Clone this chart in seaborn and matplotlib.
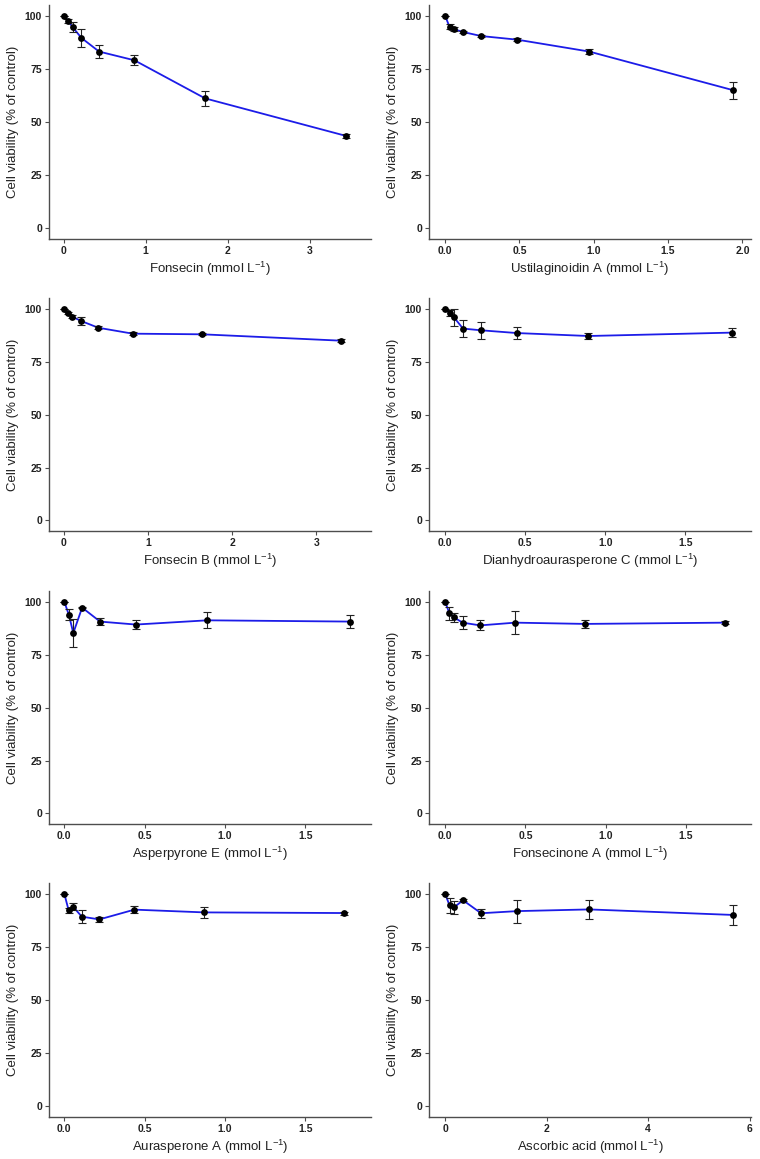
import numpy as np
import pandas as pd
import matplotlib
matplotlib.use("Agg")
import matplotlib.pyplot as plt
import seaborn as sns

sns.set_style("white")
plt.rcParams['font.family'] = ['Liberation Sans', 'DejaVu Sans']
plt.rcParams['mathtext.fontset'] = 'custom'
plt.rcParams['mathtext.rm'] = 'Liberation Sans'
plt.rcParams['mathtext.it'] = 'Liberation Sans:italic'

# compound names (x labels)
compounds = ["Fonsecin", "Ustilaginoidin A", "Fonsecin B", "Dianhydroaurasperone C",
             "Asperpyrone E", "Fonsecinone A", "Aurasperone A", "Ascorbic acid"]

# concentrations (mmol/L)
conc_fonsecin = [0, 0.054, 0.108, 0.216, 0.431, 0.8625, 1.725, 3.45]
conc_ustilaginoidin_a = [0, 0.030, 0.061, 0.121, 0.2425, 0.485, 0.97, 1.94]
conc_fonsecin_b = [0, 0.051, 0.103, 0.206, 0.41, 0.82, 1.645, 3.29]
conc_dianhydro_c = [0, 0.028, 0.056, 0.112, 0.224, 0.447, 0.895, 1.79]
conc_asperpyrone_e = [0, 0.028, 0.056, 0.111, 0.2225, 0.445, 0.89, 1.78]
conc_fonsecinone_a = [0, 0.027, 0.0545, 0.109, 0.218, 0.436, 0.872, 1.745]
conc_aurasperone_a = [0, 0.027, 0.0545, 0.109, 0.218, 0.436, 0.871, 1.742]
conc_ascorbic = [0, 0.089, 0.1775, 0.355, 0.71, 1.42, 2.84, 5.68]

# cell viability (% of control)
via_fonsecin = [100, 97.5, 94.6, 89.5, 83.1, 79.0, 61.1, 43.4]
via_ustilaginoidin_a = [100, 94.7, 93.6, 92.3, 90.4, 88.7, 83.1, 64.9]
via_fonsecin_b = [100, 98.0, 96.2, 94.2, 91.0, 88.2, 87.9, 84.9]
via_dianhydro_c = [100, 98.0, 95.9, 90.6, 89.8, 88.5, 87.1, 88.7]
via_asperpyrone_e = [100, 93.9, 85.2, 97.2, 90.6, 89.2, 91.2, 90.6]
via_fonsecinone_a = [100, 94.5, 92.6, 90.1, 88.8, 90.1, 89.5, 90.1]
via_aurasperone_a = [100, 92.2, 93.9, 89.2, 87.9, 92.5, 91.2, 90.9]
via_ascorbic = [100, 94.5, 93.6, 96.9, 90.8, 91.8, 92.6, 90.0]

# standard deviations
sd_fonsecin = [0, 1.0, 2.5, 4.2, 3.0, 2.4, 3.4, 1.0]
sd_ustilaginoidin_a = [0, 1.2, 1.0, 0.6, 0.5, 0.8, 1.2, 4.1]
sd_fonsecin_b = [0, 0.6, 0.6, 1.7, 0.6, 0.6, 0.5, 0.6]
sd_dianhydro_c = [0, 1.5, 3.9, 4.2, 3.9, 2.8, 1.4, 2.0]
sd_asperpyrone_e = [0, 2.5, 6.8, 0.4, 1.8, 2.0, 3.8, 3.0]
sd_fonsecinone_a = [0, 3.0, 2.0, 3.0, 2.4, 5.5, 1.9, 0.8]
sd_aurasperone_a = [0, 1.2, 1.6, 2.9, 1.3, 1.7, 2.7, 0.7]
sd_ascorbic = [0, 3.7, 3.1, 0.4, 2.1, 5.4, 4.6, 4.9]

concs = [conc_fonsecin, conc_ustilaginoidin_a, conc_fonsecin_b, conc_dianhydro_c,
         conc_asperpyrone_e, conc_fonsecinone_a, conc_aurasperone_a, conc_ascorbic]
vias = [via_fonsecin, via_ustilaginoidin_a, via_fonsecin_b, via_dianhydro_c,
        via_asperpyrone_e, via_fonsecinone_a, via_aurasperone_a, via_ascorbic]
sds = [sd_fonsecin, sd_ustilaginoidin_a, sd_fonsecin_b, sd_dianhydro_c,
       sd_asperpyrone_e, sd_fonsecinone_a, sd_aurasperone_a, sd_ascorbic]
xticks = [[0, 1, 2, 3], [0.0, 0.5, 1.0, 1.5, 2.0], [0, 1, 2, 3], [0.0, 0.5, 1.0, 1.5],
          [0.0, 0.5, 1.0, 1.5], [0.0, 0.5, 1.0, 1.5], [0.0, 0.5, 1.0, 1.5], [0, 2, 4, 6]]
xtick_fmt = ["{:.0f}", "{:.1f}", "{:.0f}", "{:.1f}", "{:.1f}", "{:.1f}", "{:.1f}", "{:.0f}"]
xlims = [(-0.18, 3.75), (-0.108, 2.058), (-0.175, 3.65), (-0.1, 1.91),
         (-0.095, 1.908), (-0.1, 1.904), (-0.095, 1.908), (-0.316, 6.03)]

fig = plt.figure(figsize=(7.6, 11.59), dpi=100)

col_left = [0.0645, 0.5645]
ax_w = 0.4237
rows = [(0.7938, 0.2019), (0.5418, 0.2010), (0.2890, 0.2010), (0.0362, 0.2019)]
axis_col = "#4d4d4d"

for i, name in enumerate(compounds):
    r, c = divmod(i, 2)
    ax = fig.add_axes([col_left[c], rows[r][0], ax_w, rows[r][1]])
    df = pd.DataFrame({"conc": concs[i], "viability": vias[i], "sd": sds[i]})

    sns.lineplot(data=df, x="conc", y="viability", color="#1c1ce8", linewidth=1.3,
                 ax=ax, zorder=2)
    ax.errorbar(df["conc"], df["viability"], yerr=df["sd"], fmt="none",
                ecolor="#222222", elinewidth=0.8, capsize=2.8, capthick=0.8, zorder=3)
    sns.scatterplot(data=df, x="conc", y="viability", color="black", s=24,
                    edgecolor="black", linewidth=0, ax=ax, zorder=4)

    ax.set_xlim(*xlims[i])
    ax.set_ylim(-5, 105)
    ax.set_yticks([0, 25, 50, 75, 100])
    ax.set_xticks(xticks[i])
    ax.set_xticklabels([xtick_fmt[i].format(t) for t in xticks[i]])

    ax.set_xlabel(name + r" (mmol L$^{-1}$)", fontsize=9.5, color="#222222", labelpad=3)
    ax.set_ylabel("Cell viability (% of control)", fontsize=9.5, color="#222222", labelpad=4)

    for side in ["top", "right"]:
        ax.spines[side].set_visible(False)
    for side in ["left", "bottom"]:
        ax.spines[side].set_color(axis_col)
        ax.spines[side].set_linewidth(1.0)
    ax.tick_params(axis="both", which="both", length=3, width=0.8, color=axis_col,
                   labelsize=7.5, labelcolor="#222222", pad=2, left=True, bottom=True)
    for lab in ax.get_xticklabels() + ax.get_yticklabels():
        lab.set_fontweight("bold")

fig.savefig("out.png", dpi=100)
